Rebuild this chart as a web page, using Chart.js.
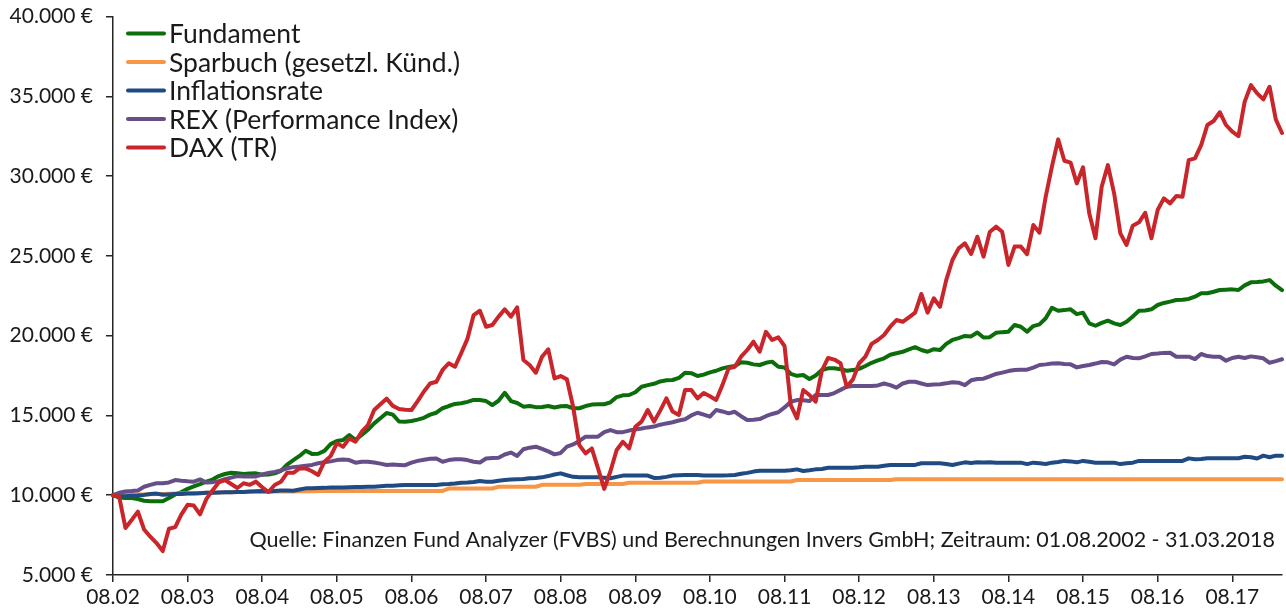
<!DOCTYPE html>
<html>
<head>
<meta charset="utf-8">
<script src="https://cdn.jsdelivr.net/npm/chart.js@4"></script>
<style>
  html, body { margin: 0; padding: 0; background: #fff; }
  #wrap { width: 1286px; height: 612px; }
</style>
</head>
<body>
<div id="wrap"><canvas id="chart" width="1286" height="612"></canvas></div>
<script>
// months from 08.2002 to 03.2018 (start value + 188 month ends)
const startYear = 2002, startMonth = 8, monthCount = 189;
const categories = [];
for (let i = 0; i < monthCount; i++) {
    const m = (startMonth - 1 + i) % 12 + 1;
    const y = startYear + Math.floor((startMonth - 1 + i) / 12);
    categories.push(String(m).padStart(2, "0") + "." + String(y % 100).padStart(2, "0"));
}

const tickEvery = 12;
const yTicks = [5000, 10000, 15000, 20000, 25000, 30000, 35000, 40000];
const sourceNote = "Quelle: Finanzen Fund Analyzer (FVBS) und Berechnungen Invers GmbH; Zeitraum: 01.08.2002 - 31.03.2018";

const seriesNames = ["Fundament", "Sparbuch (gesetzl. Künd.)", "Inflationsrate", "REX (Performance Index)", "DAX (TR)"];

const fundament = [
    10000, 9850, 9830, 9830, 9760, 9650, 9620, 9620, 9620, 9820,
    10050, 10200, 10400, 10550, 10700, 10850, 10980, 11200, 11330, 11410,
    11380, 11330, 11360, 11370, 11290, 11300, 11370, 11530, 11920, 12200,
    12460, 12790, 12590, 12600, 12780, 13200, 13400, 13460, 13770, 13460,
    13770, 14100, 14500, 14820, 15150, 15050, 14620, 14610, 14650, 14740,
    14850, 15050, 15170, 15450, 15590, 15720, 15760, 15850, 15970, 15970,
    15900, 15650, 15920, 16420, 15900, 15780, 15550, 15590, 15520, 15530,
    15590, 15500, 15580, 15590, 15450, 15450, 15590, 15680, 15700, 15700,
    15820, 16150, 16260, 16280, 16450, 16800, 16900, 16980, 17130, 17200,
    17220, 17350, 17680, 17650, 17470, 17560, 17700, 17800, 17950, 18040,
    18100, 18330, 18300, 18200, 18160, 18300, 18370, 18050, 18010, 17600,
    17480, 17530, 17280, 17500, 17850, 17950, 17950, 17900, 17800, 17840,
    17920, 18100, 18300, 18450, 18580, 18800, 18900, 18990, 19140, 19280,
    19100, 18990, 19150, 19100, 19480, 19730, 19850, 19980, 19950, 20200,
    19880, 19900, 20180, 20220, 20250, 20670, 20560, 20250, 20600, 20710,
    21090, 21750, 21560, 21600, 21650, 21350, 21440, 20770, 20620, 20800,
    20940, 20770, 20670, 20870, 21200, 21560, 21580, 21650, 21920, 22050,
    22130, 22230, 22250, 22300, 22440, 22650, 22660, 22750, 22860, 22880,
    22900, 22860, 23150, 23340, 23360, 23400, 23480, 23130, 22850
];

const sparbuch = [
    10000, 10010, 10020, 10030, 10040, 10050, 10060, 10070, 10080, 10090,
    10100, 10110, 10120, 10130, 10140, 10150, 10160, 10170, 10180, 10190,
    10200, 10200, 10210, 10210, 10220, 10220, 10230, 10230, 10240, 10240,
    10250, 10250, 10250, 10260, 10260, 10260, 10270, 10270, 10270, 10270,
    10270, 10270, 10270, 10270, 10270, 10270, 10270, 10270, 10270, 10270,
    10270, 10270, 10270, 10270, 10420, 10420, 10420, 10420, 10420, 10420,
    10420, 10420, 10530, 10530, 10530, 10530, 10530, 10530, 10530, 10650,
    10650, 10650, 10650, 10650, 10650, 10650, 10700, 10700, 10700, 10700,
    10700, 10700, 10700, 10780, 10780, 10780, 10780, 10780, 10780, 10780,
    10780, 10780, 10780, 10780, 10780, 10860, 10860, 10860, 10860, 10860,
    10860, 10860, 10860, 10860, 10860, 10860, 10860, 10860, 10860, 10860,
    10950, 10950, 10950, 10950, 10950, 10950, 10950, 10950, 10950, 10950,
    10950, 10950, 10950, 10950, 10950, 10950, 11000, 11000, 11000, 11000,
    11000, 11000, 11000, 11000, 11000, 11000, 11000, 11000, 11000, 11000,
    11000, 11000, 11000, 11000, 11000, 11000, 11000, 11000, 11000, 11000,
    11000, 11000, 11000, 11000, 11000, 11000, 11000, 11000, 11000, 11000,
    11000, 11000, 11000, 11000, 11000, 11000, 11000, 11000, 11000, 11000,
    11000, 11000, 11000, 11000, 11000, 11000, 11000, 11000, 11000, 11000,
    11000, 11000, 11000, 11000, 11000, 11000, 11000, 11000, 11000
];

const inflation = [
    10000, 9950, 9940, 9960, 9980, 10020, 10080, 10100, 10030, 10050,
    10070, 10080, 10100, 10110, 10130, 10150, 10150, 10170, 10180, 10190,
    10200, 10200, 10230, 10250, 10270, 10240, 10270, 10300, 10300, 10280,
    10360, 10430, 10430, 10450, 10460, 10480, 10490, 10490, 10500, 10510,
    10520, 10530, 10530, 10560, 10590, 10600, 10620, 10640, 10640, 10640,
    10640, 10640, 10640, 10680, 10700, 10730, 10780, 10800, 10830, 10890,
    10850, 10850, 10910, 10950, 10980, 11000, 11020, 11060, 11080, 11120,
    11200, 11300, 11370, 11250, 11150, 11120, 11120, 11120, 11120, 11100,
    11060, 11150, 11230, 11230, 11230, 11230, 11230, 11080, 11100, 11150,
    11230, 11250, 11260, 11270, 11270, 11240, 11240, 11240, 11240, 11250,
    11270, 11340, 11400, 11480, 11530, 11530, 11530, 11530, 11540, 11560,
    11620, 11520, 11560, 11620, 11640, 11720, 11720, 11720, 11720, 11720,
    11750, 11790, 11790, 11790, 11840, 11890, 11890, 11890, 11890, 11900,
    12000, 12000, 12000, 12000, 11960, 11890, 11980, 12060, 12020, 12060,
    12050, 12060, 12040, 12040, 12040, 12040, 12040, 11950, 12040, 12000,
    11960, 12040, 12080, 12150, 12120, 12060, 12150, 12100, 12040, 12040,
    12040, 12040, 11950, 12000, 12040, 12150, 12150, 12150, 12150, 12150,
    12150, 12150, 12150, 12310, 12250, 12270, 12310, 12310, 12310, 12310,
    12310, 12320, 12410, 12380, 12300, 12480, 12380, 12480, 12480
];

const rex = [
    10000, 10150, 10230, 10260, 10300, 10530, 10650, 10750, 10750, 10800,
    10950, 10900, 10870, 10850, 10990, 10800, 10820, 10880, 11000, 11100,
    11200, 11180, 11180, 11180, 11300, 11400, 11460, 11550, 11690, 11760,
    11800, 11850, 11900, 12000, 12060, 12120, 12200, 12240, 12200, 12040,
    12100, 12100, 12050, 11980, 11890, 11920, 11900, 11880, 12040, 12150,
    12220, 12280, 12300, 12100, 12200, 12250, 12250, 12200, 12100, 12050,
    12300, 12330, 12350, 12550, 12670, 12460, 12880, 12980, 13040, 12900,
    12750, 12560, 12650, 13040, 13180, 13400, 13670, 13670, 13670, 13950,
    14080, 13950, 13950, 14050, 14120, 14180, 14250, 14300, 14420, 14500,
    14570, 14680, 14760, 15000, 15170, 15050, 14920, 15340, 15250, 15130,
    15230, 14950, 14710, 14730, 14770, 14950, 15090, 15200, 15500, 15860,
    15960, 15950, 15900, 16280, 16280, 16280, 16400, 16600, 16800, 16840,
    16840, 16840, 16840, 16880, 17000, 16900, 16740, 17000, 17110, 17110,
    17000, 16900, 16940, 16960, 17010, 17080, 17050, 16900, 17200, 17280,
    17300, 17450, 17600, 17680, 17780, 17850, 17860, 17870, 18000, 18160,
    18200, 18250, 18270, 18230, 18200, 18010, 18100, 18160, 18250, 18350,
    18330, 18200, 18500, 18680, 18600, 18580, 18700, 18850, 18880, 18920,
    18930, 18680, 18680, 18680, 18530, 18850, 18720, 18680, 18680, 18430,
    18600, 18680, 18600, 18700, 18650, 18580, 18300, 18400, 18520
];

const dax = [
    10000, 9900, 7950, 8450, 8970, 7850, 7400, 7000, 6500, 7900,
    8000, 8800, 9400, 9350, 8800, 9750, 10300, 10800, 10950, 10700,
    10450, 10750, 10650, 10850, 10500, 10200, 10640, 10840, 11400, 11400,
    11680, 11680, 11500, 11270, 12100, 12450, 13250, 13040, 13560, 13350,
    13980, 14400, 15340, 15700, 16050, 15600, 15400, 15350, 15340, 15900,
    16500, 17000, 17110, 17850, 18270, 18050, 18900, 19800, 21290, 21560,
    20560, 20670, 21190, 21650, 21190, 21770, 18470, 18160, 17680, 18680,
    19140, 17320, 17470, 17260, 15540, 13140, 12620, 12930, 11680, 10400,
    11500, 12830, 13350, 12930, 14290, 14610, 15340, 14610, 15300, 16070,
    15240, 15030, 16590, 16590, 16070, 16400, 16200, 15970, 16900, 17950,
    18050, 18680, 19100, 19620, 18990, 20240, 19730, 19890, 19350, 15650,
    14820, 16590, 16280, 15860, 17800, 18600, 18500, 18270, 16800, 17260,
    18270, 18680, 19480, 19730, 20040, 20560, 20980, 20870, 21150, 21440,
    22610, 21440, 22340, 21810, 23480, 24740, 25470, 25790, 25110, 26200,
    24950, 26500, 26830, 26510, 24430, 25580, 25580, 25110, 26930, 26450,
    28710, 30590, 32300, 30960, 30840, 29540, 30550, 27670, 26100, 29330,
    30690, 28920, 26410, 25680, 26890, 27100, 27700, 26100, 27870, 28600,
    28290, 28750, 28710, 31000, 31110, 31940, 33200, 33450, 34000, 33200,
    32780, 32510, 34660, 35700, 35180, 34810, 35600, 33550, 32700
];

const seriesValues = [fundament, sparbuch, inflation, rex, dax];
const seriesColors = ["#0b6e0b", "#f79646", "#1f4b82", "#664f88", "#c9262b"];

const FONT = "Lato, 'Noto Sans', sans-serif";
const TEXT = "#1a1a1a";
const AXIS = "#262626";

function euro(v) {
    return String(v).replace(/\B(?=(\d{3})+(?!\d))/g, ".") + " €";
}

const insideLegend = {
    id: "insideLegend",
    afterDraw(chart) {
        const ctx = chart.ctx;
        ctx.save();
        ctx.font = "26.5px " + FONT;
        ctx.textBaseline = "middle";
        ctx.textAlign = "left";
        chart.data.datasets.forEach((ds, i) => {
            const y = 33.5 + i * 28.5;
            ctx.strokeStyle = ds.borderColor;
            ctx.lineWidth = 4;
            ctx.lineCap = "round";
            ctx.beginPath();
            ctx.moveTo(128, y);
            ctx.lineTo(164, y);
            ctx.stroke();
            ctx.fillStyle = TEXT;
            ctx.fillText(ds.label, 169, y + 1);
        });
        ctx.restore();
    }
};

const sourceText = {
    id: "sourceText",
    afterDraw(chart) {
        const ctx = chart.ctx;
        ctx.save();
        ctx.font = "21.5px " + FONT;
        ctx.fillStyle = TEXT;
        ctx.textAlign = "right";
        ctx.textBaseline = "alphabetic";
        ctx.fillText(sourceNote, 1275, 547);
        ctx.restore();
    }
};

new Chart(document.getElementById("chart"), {
    type: "line",
    data: {
        labels: categories,
        datasets: seriesNames.map((name, i) => ({
            label: name,
            data: seriesValues[i],
            borderColor: seriesColors[i],
            backgroundColor: seriesColors[i],
            borderWidth: 4,
            pointRadius: 0,
            tension: 0,
            borderJoinStyle: "round",
            borderCapStyle: "round",
            order: seriesNames.length - i
        }))
    },
    options: {
        responsive: false,
        animation: false,
        devicePixelRatio: 1,
        layout: { padding: { left: 0, right: 4, top: 16.5, bottom: 0 } },
        plugins: {
            legend: { display: false },
            tooltip: { enabled: false }
        },
        scales: {
            x: {
                offset: false,
                grid: { drawOnChartArea: false, tickLength: 7, color: AXIS, lineWidth: 1.5 },
                border: { display: true, color: AXIS, width: 1.5 },
                ticks: {
                    autoSkip: false,
                    maxRotation: 0,
                    padding: 3,
                    color: TEXT,
                    font: { family: FONT, size: 21 },
                    callback: (v, i) => (i % tickEvery === 0 ? categories[i] : null)
                },
                afterFit: s => { s.height = 37; s.paddingLeft = 0; s.paddingRight = 0; }
            },
            y: {
                min: yTicks[0],
                max: yTicks[yTicks.length - 1],
                afterBuildTicks: s => { s.ticks = yTicks.map(v => ({ value: v })); },
                grid: { drawOnChartArea: false, tickLength: 7, color: AXIS, lineWidth: 1.5 },
                border: { display: true, color: AXIS, width: 1.5 },
                ticks: {
                    padding: 13,
                    color: TEXT,
                    font: { family: FONT, size: 21 },
                    callback: v => euro(v)
                },
                afterFit: s => { s.width = 113; s.paddingTop = 0; s.paddingBottom = 0; }
            }
        }
    },
    plugins: [insideLegend, sourceText]
});
</script>
</body>
</html>
